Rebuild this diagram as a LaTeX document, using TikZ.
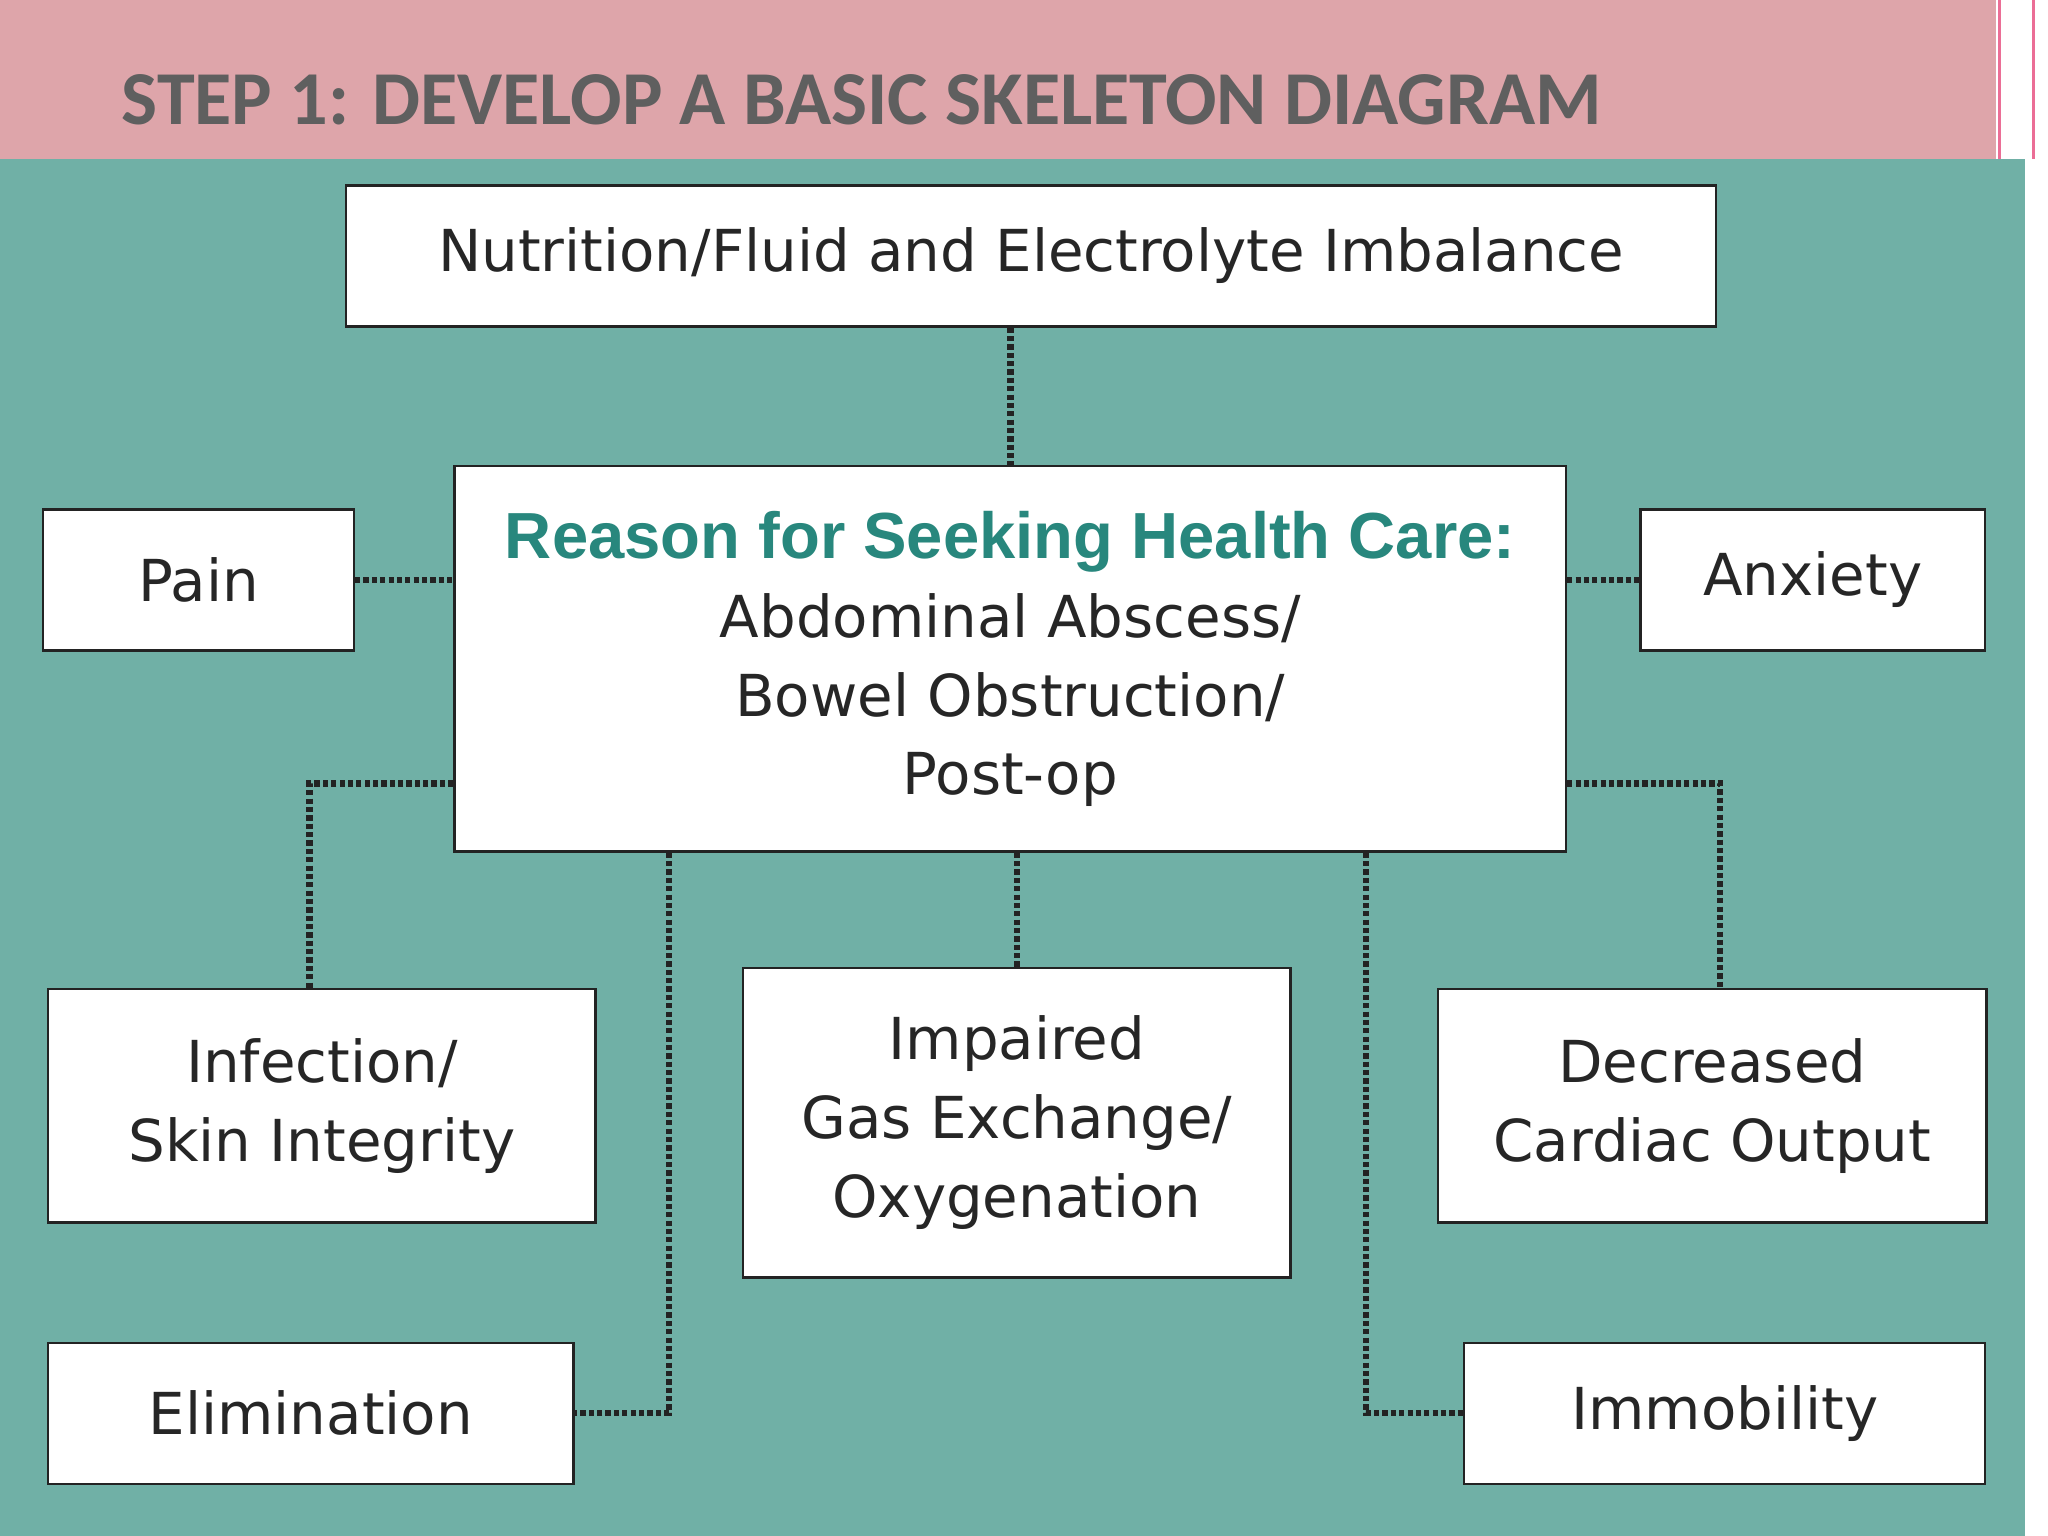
\documentclass[tikz,border=0pt]{standalone}
\usepackage{fontspec}
\setmainfont{DejaVu Sans}
\newfontfamily\titlefont{Carlito}
\newfontfamily\headfont{Liberation Sans}
\definecolor{teal1}{RGB}{112,176,166}
\definecolor{pink1}{RGB}{222,165,170}
\definecolor{pinkline}{RGB}{235,110,150}
\definecolor{titlegray}{RGB}{95,95,95}
\definecolor{headteal}{RGB}{40,135,125}
\definecolor{edge}{RGB}{35,35,35}
\tikzset{
 box/.style={draw=edge, line width=2.5pt, fill=white, align=center, inner sep=0pt,
   font=\fontsize{63}{86}\selectfont, text=black!85},
 conn/.style={draw=edge, line width=7pt, dash pattern=on 0.2cm off 0.12cm}
}
\begin{document}
\begin{tikzpicture}[x=0.05cm,y=-0.05cm]
\useasboundingbox (0,0) rectangle (1568,1176);
\fill[white] (0,0) rectangle (1568,1176);
\fill[teal1] (0,122) rectangle (1550,1176);
\fill[pink1] (0,0) rectangle (1528,122);
\draw[pinkline, line width=3pt] (1531,0) -- (1531,122);
\draw[pinkline, line width=3pt] (1557,0) -- (1557,122);
\node[anchor=base west, font=\titlefont\bfseries\fontsize{83}{90}\selectfont, text=titlegray, inner sep=0pt] (title) at (93,95) {STEP 1: DEVELOP A BASIC SKELETON DIAGRAM};

\node[box, minimum width=52.45cm, minimum height=5.4cm] (nut) at (789.5,196) {\raisebox{-0.1cm}{Nutrition/Fluid and Electrolyte Imbalance}};
\node[box, minimum width=42.55cm, minimum height=14.75cm] (rea) at (773.5,504.5) {{\headfont\bfseries\fontsize{71}{86}\selectfont\color{headteal}Reason for Seeking Health Care:}\\Abdominal Abscess/\\Bowel Obstruction/\\Post-op};
\node[box, minimum width=11.9cm, minimum height=5.4cm] (pain) at (152,444) {Pain};
\node[box, minimum width=13.2cm, minimum height=5.4cm] (anx) at (1388,444) {Anxiety};
\node[box, minimum width=20.95cm, minimum height=8.95cm] (inf) at (246.5,846.5) {Infection/\\Skin Integrity};
\node[box, minimum width=20.95cm, minimum height=11.85cm] (imp) at (778.5,859.5) {Impaired\\Gas Exchange/\\Oxygenation};
\node[box, minimum width=21cm, minimum height=8.95cm] (dec) at (1311,846.5) {Decreased\\Cardiac Output};
\node[box, minimum width=20.1cm, minimum height=5.4cm] (eli) at (238,1082) {Elimination};
\node[box, minimum width=19.95cm, minimum height=5.4cm] (imm) at (1320.5,1082) {Immobility};

\coordinate (lx) at (237,600);
\coordinate (rx) at (1317,600);
\coordinate (ex) at (512,1082);
\coordinate (mx) at (1046,1082);

\draw[conn] (nut.south -| rea.north) -- (rea.north);
\draw[conn] (pain.east) -- (pain.east -| rea.west);
\draw[conn] (rea.east |- anx.west) -- (anx.west);
\draw[conn] (rea.west |- lx) -- (lx) -- (lx |- inf.north);
\draw[conn] (rea.east |- rx) -- (rx) -- (rx |- dec.north);
\draw[conn] (rea.south -| ex) -- (ex) -- (eli.east);
\draw[conn] (rea.south -| mx) -- (mx) -- (imm.west);
\draw[conn] (rea.south -| imp.north) -- (imp.north);
\end{tikzpicture}
\end{document}
